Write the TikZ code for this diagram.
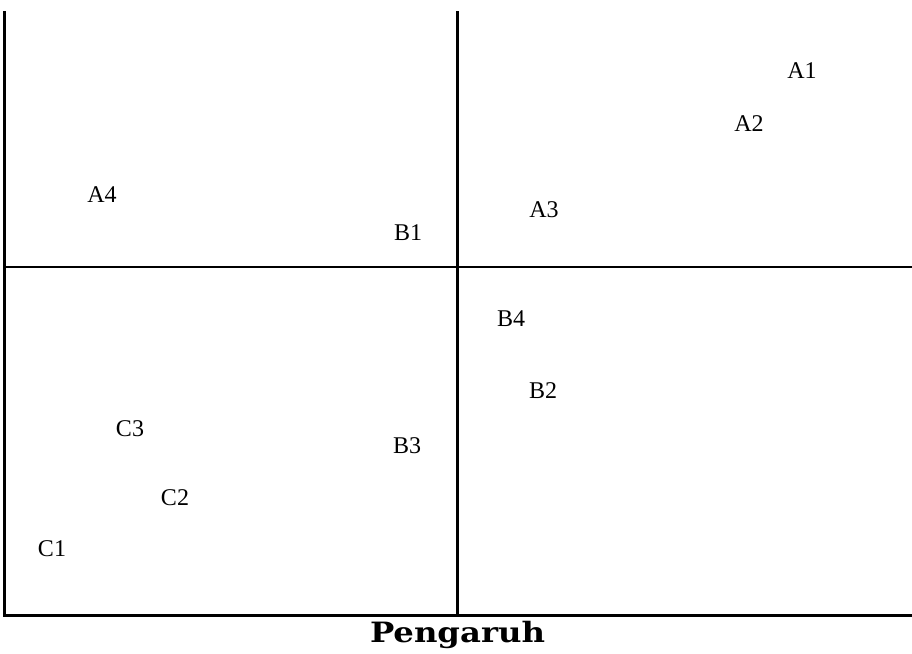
\documentclass[tikz,border=0pt]{standalone}
\usepackage{fontspec}
\setmainfont{Liberation Serif}
\newfontfamily\titlefont{DejaVu Serif}
\begin{document}
\begin{tikzpicture}[x=1pt,y=-1pt,
  axis/.style={line width=2.2pt,black},
  lbl/.style={inner sep=0pt,font=\fontsize{24}{28}\selectfont}]
\useasboundingbox (0,0) rectangle (912,653);
\coordinate (tl) at (4.5,11);
\coordinate (bl) at (4.5,615.5);
\coordinate (br) at (912,615.5);
\coordinate (mt) at (457.5,11);
\coordinate (mb) at (457.5,615.5);
\coordinate (hl) at (4.5,267);
\coordinate (hr) at (912,267);
\draw[axis] (tl) -- (bl) -- (br);
\draw[axis] (mt) -- (mb);
\draw[axis] (hl) -- (hr);
\node[lbl] (A1) at (802,71) {A1};
\node[lbl] (A2) at (749,124) {A2};
\node[lbl] (A3) at (544,210) {A3};
\node[lbl] (A4) at (102,195) {A4};
\node[lbl] (B1) at (408,233) {B1};
\node[lbl] (B4) at (511,319) {B4};
\node[lbl] (B2) at (543,391) {B2};
\node[lbl] (C3) at (130,429) {C3};
\node[lbl] (B3) at (407,446) {B3};
\node[lbl] (C2) at (175,498) {C2};
\node[lbl] (C1) at (52,549) {C1};
\node[inner sep=0pt,anchor=base] (title) at (457.5,642)
  {\resizebox{175pt}{\height}{\titlefont\bfseries\fontsize{28}{30}\selectfont Pengaruh}};
\end{tikzpicture}
\end{document}
